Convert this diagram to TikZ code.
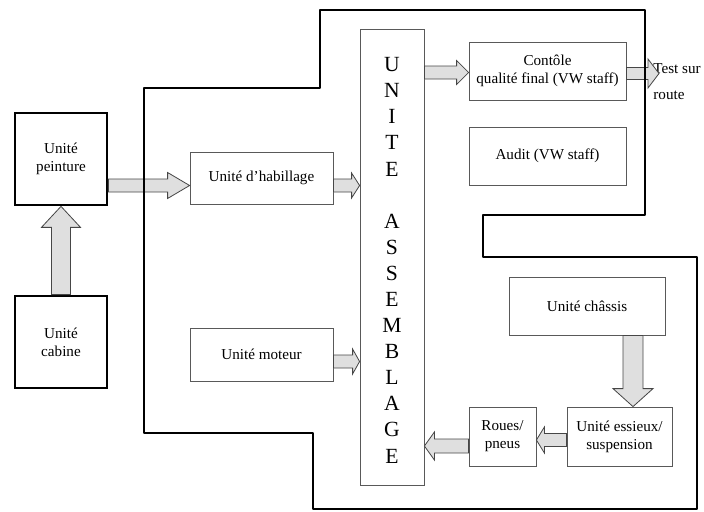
\documentclass[tikz,border=0pt]{standalone}
\usepackage{fontspec}
\setmainfont{Liberation Serif}
\usetikzlibrary{calc}
\newcommand{\pxu}{0.026cm}
\tikzset{
  unit/.style={draw=gray!70!black, line width=0.6pt, align=center, inner sep=0pt,
               font=\fontsize{11.2}{13.3}\selectfont},
  thickunit/.style={unit, draw=black, line width=2pt},
  boxsize/.style 2 args={minimum width=#1*\pxu, minimum height=#2*\pxu},
  outline/.style={line width=2pt, line join=round},
  arrshaft/.code={\pgfmathsetlengthmacro\shaftw{#1*\pxu/2}},
  arrhead/.code={\pgfmathsetlengthmacro\headw{#1*\pxu/2}},
  arrlen/.code={\pgfmathsetlengthmacro\headl{#1*\pxu}},
  fat/.style={draw=gray!55!black, fill=gray!25, line width=0.6pt,
    to path={let \p1=(\tikztostart), \p2=(\tikztotarget),
      \n1={atan2(\y2-\y1,\x2-\x1)} in
      ($(\p1)+(\n1+90:\shaftw)$)
      -- ($(\p2)+(\n1+180:\headl)+(\n1+90:\shaftw)$)
      -- ($(\p2)+(\n1+180:\headl)+(\n1+90:\headw)$)
      -- (\p2)
      -- ($(\p2)+(\n1+180:\headl)+(\n1-90:\headw)$)
      -- ($(\p2)+(\n1+180:\headl)+(\n1-90:\shaftw)$)
      -- ($(\p1)+(\n1-90:\shaftw)$) -- cycle}},
}

\begin{document}
\begin{tikzpicture}[x=\pxu, y=-\pxu]
\useasboundingbox (0,0) rectangle (704,512);

%Units
\node[thickunit, boxsize={92}{92}] (peinture) at (61,159) {Unité\\peinture};
\node[thickunit, boxsize={92}{92}] (cabine) at (61,342) {Unité\\cabine};
\node[unit, boxsize={143}{52}] (habillage) at (261.5,178) {Unité d’habillage};
\node[unit, boxsize={143}{53}] (moteur) at (261.5,354.5) {Unité moteur};
\node[unit, boxsize={64}{456}, font=\fontsize{16}{19.3}\selectfont] (assemblage) at (392,257)
  {\\[-4pt]U\\N\\I\\T\\E\\[19.3pt]A\\S\\S\\E\\M\\B\\L\\A\\G\\E};
\node[unit, boxsize={157}{58}] (controle) at (547.5,71) {Contôle\\qualité final (VW staff)};
\node[unit, boxsize={157}{58}] (audit) at (547.5,156) {Audit (VW staff)};
\node[unit, boxsize={156}{58}] (chassis) at (587,306) {Unité châssis};
\node[unit, boxsize={105}{59}] (essieux) at (619.5,436.5) {Unité essieux/\\suspension};
\node[unit, boxsize={67}{59}] (roues) at (502.5,436.5) {Roues/\\pneus};
\node[unit, draw=none, align=left, anchor=west] (route) at (653,82) {Test sur\\[6pt]route};
\coordinate (testend) at (659,73.5);

%Arrows
\draw[fat, arrshaft=19, arrhead=39, arrlen=21] (cabine.north) to (peinture.south);
\draw[fat, arrshaft=13, arrhead=26, arrlen=22] (peinture.east |- 0,185.5) to (habillage.west |- 0,185.5);
\draw[fat, arrshaft=13, arrhead=25, arrlen=8] (habillage.east |- 0,185.5) to (assemblage.west |- 0,185.5);
\draw[fat, arrshaft=13, arrhead=25, arrlen=7] (moteur.east |- 0,361.5) to (assemblage.west |- 0,361.5);
\draw[fat, arrshaft=13, arrhead=24, arrlen=12] (assemblage.east |- 0,72.5) to (controle.west |- 0,72.5);
\draw[fat, arrshaft=12, arrhead=29, arrlen=11] (controle.east |- 0,73.5) to (testend);
\draw[fat, arrshaft=20, arrhead=40, arrlen=18] (chassis.south -| 633,0) to (essieux.north -| 633,0);
\draw[fat, arrshaft=13, arrhead=26, arrlen=8] (essieux.west |- 0,440) to (roues.east |- 0,440);
\draw[fat, arrshaft=14, arrhead=28, arrlen=10] (roues.west |- 0,446) to (assemblage.east |- 0,446);

%Outline
\draw[outline] (320,10) -- (645,10) -- (645,215) -- (483,215) -- (483,257) -- (697,257)
  -- (697,509) -- (313,509) -- (313,433) -- (144,433) -- (144,88) -- (320,88) -- cycle;
\end{tikzpicture}
\end{document}
